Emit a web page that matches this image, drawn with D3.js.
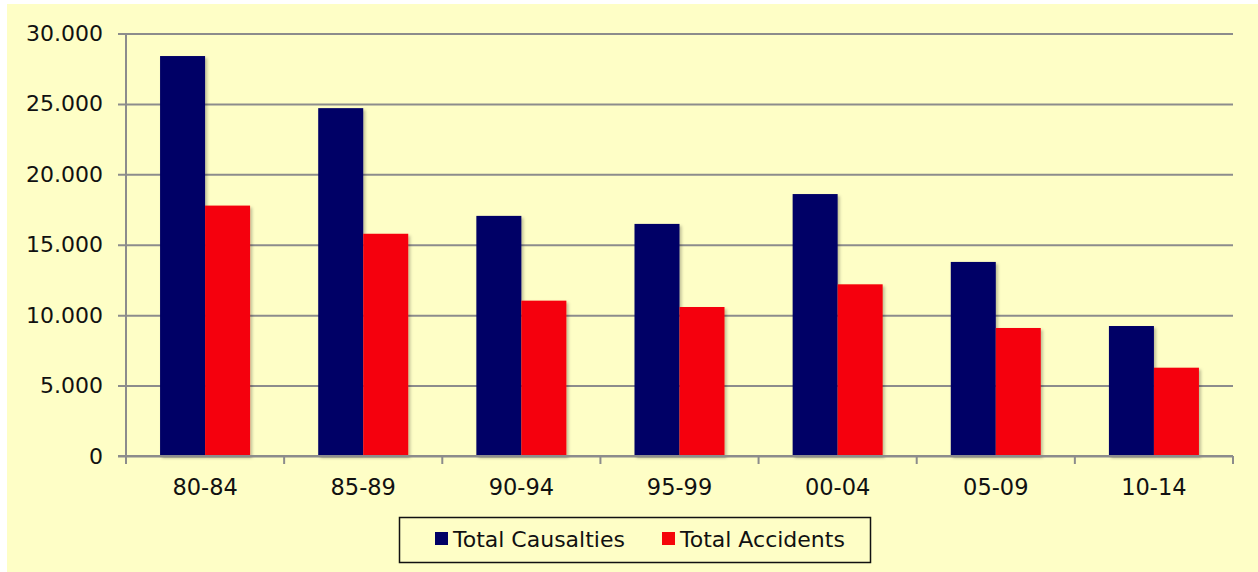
<!DOCTYPE html>
<html>
<head>
<meta charset="utf-8">
<script src="https://cdn.jsdelivr.net/npm/d3@7"></script>
<style>
  html, body { margin: 0; padding: 0; background: #ffffff; }
  svg { display: block; }
  text { font-family: "DejaVu Sans", Verdana, sans-serif; fill: #111; }
</style>
</head>
<body>
<svg id="chart" width="1258" height="572"></svg>
<script>
// ---- data ----
const categories = ["80-84", "85-89", "90-94", "95-99", "00-04", "05-09", "10-14"];
const seriesNames = ["Total Causalties", "Total Accidents"];
const causalties = [28400, 24700, 17050, 16480, 18600, 13780, 9230];
const accidents  = [17780, 15780, 11030, 10580, 12190, 9090, 6270];
const yTicks = [0, 5000, 10000, 15000, 20000, 25000, 30000];
const seriesColors = ["#000066", "#F5050A"];

// ---- layout ----
const svg = d3.select("#chart");
const plot = { left: 126, right: 1233, top: 33.5, bottom: 456 };

svg.append("rect").attr("x", 7).attr("y", 4).attr("width", 1251).attr("height", 568)
  .attr("fill", "#FEFEC6");

const defs = svg.append("defs");
const f = defs.append("filter").attr("id", "sh").attr("x", "-10%").attr("y", "-10%")
  .attr("width", "130%").attr("height", "130%");
f.append("feDropShadow").attr("dx", 2).attr("dy", 2).attr("stdDeviation", 1.5)
  .attr("flood-color", "#000").attr("flood-opacity", 0.25);

const x = d3.scaleBand().domain(categories).range([plot.left, plot.right]).paddingInner(0).paddingOuter(0);
const x1 = d3.scaleBand().domain(seriesNames).range([0, x.bandwidth()]).paddingInner(0).paddingOuter(0.757);
const y = d3.scaleLinear().domain([0, 30000]).range([plot.bottom, plot.top]);

const loc = d3.formatLocale({ decimal: ",", thousands: ".", grouping: [3], currency: ["", ""] });
const fmt = loc.format(",d");

// y axis with gridlines
const gy = svg.append("g").attr("transform", `translate(118,0)`)
  .call(d3.axisLeft(y).tickValues(yTicks).tickFormat(fmt).tickSize(-(plot.right - 118)).tickPadding(15));
gy.select(".domain").remove();
gy.selectAll(".tick line").attr("stroke", "#8C8C8C").attr("stroke-width", 2);
gy.selectAll(".tick text").attr("font-size", 22).attr("fill", "#111")
  .attr("font-family", "DejaVu Sans, Verdana, sans-serif");

// bars
const data = categories.map((c, i) => ({ cat: c, vals: [causalties[i], accidents[i]] }));
const groups = svg.append("g").selectAll("g").data(data).join("g")
  .attr("transform", d => `translate(${x(d.cat)},0)`);
groups.selectAll("rect").data(d => d.vals.map((v, j) => ({ name: seriesNames[j], v, j })))
  .join("rect")
  .attr("x", d => x1(d.name))
  .attr("width", x1.bandwidth())
  .attr("y", d => y(d.v))
  .attr("height", d => y(0) - y(d.v))
  .attr("fill", d => seriesColors[d.j])
  .attr("filter", "url(#sh)");

// y axis line
svg.append("line").attr("x1", plot.left).attr("x2", plot.left)
  .attr("y1", plot.top).attr("y2", plot.bottom)
  .attr("stroke", "#8C8C8C").attr("stroke-width", 2);

// x axis
const gx = svg.append("g").attr("transform", `translate(0,${plot.bottom})`)
  .call(d3.axisBottom(x).tickSize(0).tickPadding(23));
gx.select(".domain").remove();
gx.selectAll(".tick text").attr("font-size", 22.5).attr("fill", "#111")
  .attr("font-family", "DejaVu Sans, Verdana, sans-serif");
svg.append("line").attr("x1", 118).attr("x2", plot.right)
  .attr("y1", plot.bottom).attr("y2", plot.bottom)
  .attr("stroke", "#8C8C8C").attr("stroke-width", 2);
const bounds = categories.map(c => x(c)).concat([x(categories[categories.length - 1]) + x.bandwidth()]);
svg.append("g").selectAll("line").data(bounds).join("line")
  .attr("x1", d => d).attr("x2", d => d)
  .attr("y1", plot.bottom).attr("y2", plot.bottom + 8)
  .attr("stroke", "#8C8C8C").attr("stroke-width", 2);

// legend
const lg = svg.append("g");
lg.append("rect").attr("x", 399.5).attr("y", 517.5).attr("width", 471).attr("height", 45)
  .attr("fill", "none").attr("stroke", "#111").attr("stroke-width", 1.5);
const legendX = [435, 662];
seriesNames.forEach((n, i) => {
  lg.append("rect").attr("x", legendX[i]).attr("y", 532).attr("width", 13).attr("height", 13)
    .attr("fill", seriesColors[i]);
  lg.append("text").attr("x", legendX[i] + 18).attr("y", 547).attr("font-size", 22).text(n);
});
</script>
</body>
</html>
